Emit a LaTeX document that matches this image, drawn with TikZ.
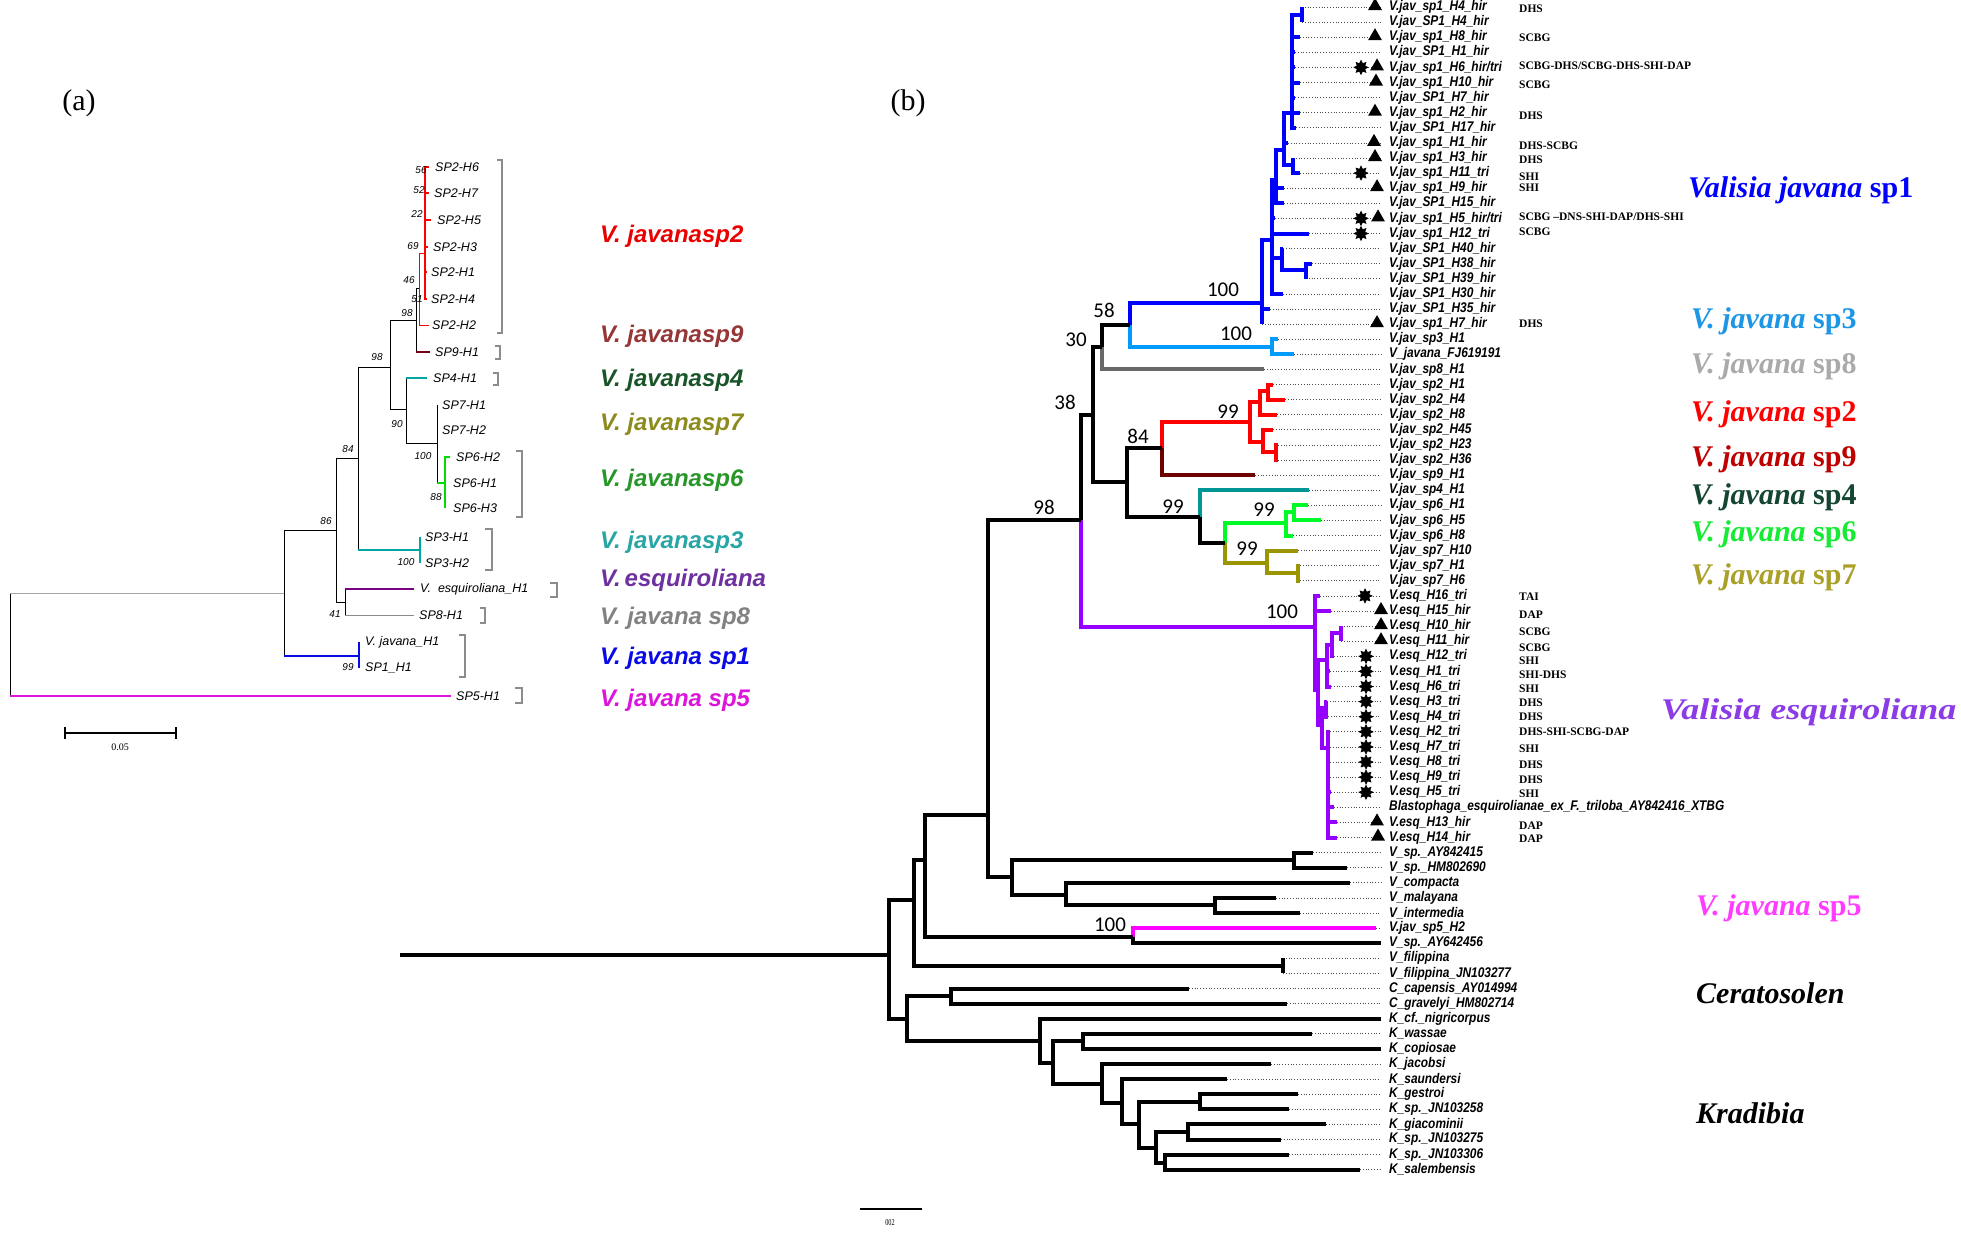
\documentclass[tikz,border=0pt]{standalone}
\usepackage{fontspec}
\usepackage{tikz}
\usetikzlibrary{shapes.geometric}
\setmainfont{Liberation Serif}
\newfontfamily\leaffont[FakeStretch=0.85]{Liberation Sans}
\newfontfamily\hapfont{Liberation Sans}
\newfontfamily\bootfont{Carlito}

% branch colours, panel (b)
\definecolor{spOne}{RGB}{0,0,255}
\definecolor{spThree}{RGB}{0,155,255}
\definecolor{spEight}{RGB}{105,105,105}
\definecolor{spTwo}{RGB}{255,0,0}
\definecolor{spNine}{RGB}{110,0,0}
\definecolor{spFour}{RGB}{0,150,150}
\definecolor{spSix}{RGB}{0,250,40}
\definecolor{spSeven}{RGB}{155,150,0}
\definecolor{esq}{RGB}{150,0,255}
\definecolor{spFive}{RGB}{255,0,255}
% clade label colours, panel (b)
\definecolor{labThree}{RGB}{30,150,230}
\definecolor{labEight}{RGB}{170,170,170}
\definecolor{labNine}{RGB}{190,0,0}
\definecolor{labFour}{RGB}{20,70,50}
\definecolor{labSix}{RGB}{20,235,50}
\definecolor{labSeven}{RGB}{170,160,40}
\definecolor{labEsq}{RGB}{140,60,230}
\definecolor{labFive}{RGB}{255,60,255}
% panel (a)
\definecolor{aRed}{RGB}{235,0,0}
\definecolor{aBrown}{RGB}{150,55,55}
\definecolor{aDkGreen}{RGB}{25,85,40}
\definecolor{aOlive}{RGB}{140,140,30}
\definecolor{aGreen}{RGB}{40,150,40}
\definecolor{aTeal}{RGB}{40,165,165}
\definecolor{aPurple}{RGB}{110,50,160}
\definecolor{aGray}{RGB}{130,130,130}
\definecolor{aBlue}{RGB}{10,10,230}
\definecolor{aMag}{RGB}{220,20,220}
\definecolor{bTeal}{RGB}{0,165,165}
\definecolor{bGreen}{RGB}{0,220,0}
\definecolor{bPurple}{RGB}{120,0,130}
\definecolor{bDkRed}{RGB}{120,0,20}

\tikzset{
  branch/.style={line width=4pt},
  lead/.style={dotted, line width=0.8pt, black!70},
  leaf/.style={anchor=west, inner sep=0pt, font=\leaffont\bfseries\itshape\fontsize{14}{16}\selectfont},
  code/.style={anchor=west, inner sep=0pt, font=\bfseries\fontsize{11.5}{12}\selectfont},
  boot/.style={inner sep=0pt, font=\bootfont\fontsize{21}{24}\selectfont},
  clade/.style={anchor=west, inner sep=0pt, font=\bfseries\fontsize{30}{34}\selectfont},
  tri/.style={regular polygon, regular polygon sides=3, fill=black, inner sep=0pt, minimum size=16pt},
  ast/.style={star, star points=8, star point ratio=1.7, fill=black, draw=black, line width=0.6pt, inner sep=0pt, minimum size=14pt},
  aline/.style={line width=0.8pt},
  hap/.style={anchor=west, inner sep=0pt, font=\hapfont\itshape\fontsize{12.5}{14}\selectfont},
  aboot/.style={inner sep=0pt, font=\hapfont\itshape\fontsize{10}{12}\selectfont},
  aclade/.style={anchor=west, inner sep=0pt, font=\hapfont\bfseries\itshape\fontsize{24}{28}\selectfont},
  brack/.style={line width=1.2pt, black!45},
  panel/.style={inner sep=0pt, font=\fontsize{30}{34}\selectfont},
}

% panel (a): vertical part black, horizontal part coloured
\newcommand\aedge[3]{\draw[aline] (#1) -- (#1 |- #2); \draw[aline,#3] (#1 |- #2) -- (#2);}

\begin{document}
\begin{tikzpicture}[x=1pt, y=-1pt]
\fill[white] (0,0) rectangle (1961,1232);
\useasboundingbox (0,0) rectangle (1961,1232);

\node[panel] (pa) at (79,103) {(a)};
\node[panel] (pb) at (908,103) {(b)};

%%%%%%%%%%%%%%%% panel (a)
% haplotypes: index / tip x / label x / y / text
\foreach \i/\tx/\lx/\yy/\txt in {1/429/435/167/{SP2-H6}, 2/429/434/193/{SP2-H7}, 3/431/437/220/{SP2-H5},
  4/428/433/247/{SP2-H3}, 5/427/431/272/{SP2-H1}, 6/427/431/299/{SP2-H4}, 7/429/432/325/{SP2-H2},
  8/430/435/352/{SP9-H1}, 9/427/433/378/{SP4-H1}, 10/437/442/405/{SP7-H1}, 11/437/442/430/{SP7-H2},
  12/450/456/457/{SP6-H2}, 13/445/453/483/{SP6-H1}, 14/445/453/508/{SP6-H3}, 15/420/425/537/{SP3-H1},
  16/420/425/563/{SP3-H2}, 17/414/420/589/{V.\ \ esquiroliana\_H1}, 18/414/419/615/{SP8-H1},
  19/359/365/642/{V. javana\_H1}, 20/359/365/668/{SP1\_H1}, 21/451/456/696/{SP5-H1}} {
  \coordinate (aT\i) at (\tx,\yy);
  \node[hap] (aL\i) at (\lx,\yy) {\txt};
}

% internal nodes
\coordinate (aR) at (10,645);
\coordinate (aN86) at (284,593);
\coordinate (aN336) at (336,530);
\coordinate (aN41) at (345,602);
\coordinate (aN84) at (358,458);
\coordinate (aNt) at (420,550);
\coordinate (aN98) at (390,367);
\coordinate (aN98b) at (416,320);
\coordinate (aNr) at (419,288);
\coordinate (aN69) at (425,253);
\coordinate (aN90) at (406,409);
\coordinate (aN100) at (437,443);
\coordinate (aN88) at (445,483);
\coordinate (aNb) at (359,656);

% branches
\aedge{aR}{aN86}{black!35}
\aedge{aR}{aT21}{aMag, line width=2pt}
\aedge{aN86}{aN336}{black}
\aedge{aN86}{aNb}{aBlue, line width=1.8pt}
\aedge{aN336}{aN84}{black}
\aedge{aN336}{aN41}{black}
\aedge{aN41}{aT17}{bPurple, line width=1.5pt}
\aedge{aN41}{aT18}{black!45}
\aedge{aN84}{aN98}{black}
\aedge{aN84}{aNt}{bTeal, line width=1.2pt}
\aedge{aN98}{aN98b}{black}
\aedge{aN98}{aN90}{black}
\aedge{aN98b}{aNr}{black}
\aedge{aN98b}{aT8}{bDkRed, line width=1.5pt}
\aedge{aN90}{aT9}{bTeal, line width=1.2pt}
\aedge{aN90}{aN100}{black}
\aedge{aN100}{aN88}{bGreen, line width=1.2pt}
\draw[aline, red] (aNr) |- (aN69);
\draw[aline, red] (aNr) |- (aT7);
\foreach \i in {1,...,6} \draw[line width=2.5pt, red] (aN69) |- (aT\i);
\draw[aline] (aN100) |- (aT10);
\draw[aline] (aN100) |- (aT11);
\foreach \i in {12,13,14} \draw[line width=1.2pt, bGreen] (aN88) |- (aT\i);
\foreach \i in {15,16} \draw[line width=2pt, bTeal] (aNt) |- (aT\i);
\foreach \i in {19,20} \draw[line width=2.5pt, aBlue] (aNb) |- (aT\i);

% bootstrap values
\foreach \bx/\by/\bv [count=\n] in {421/170/56, 419/190/52, 417/214/22, 413/246/69, 409/280/46,
  417/299/51, 407/313/98, 377/357/98, 397/424/90, 423/456/100, 436/497/88, 348/449/84,
  326/521/86, 406/562/100, 335/614/41, 348/667/99}
  \node[aboot] (ab\n) at (\bx,\by) {\bv};

% brackets
\foreach \xa/\xb/\ya/\yb [count=\n] in {497/502/160/333, 495/500/346/359, 493/498/373/385,
  516/522/451/517, 485/492/529/570, 550/557/583/597, 480/485/608/623, 459/465/635/677, 515/522/688/703} {
  \coordinate (bkA\n) at (\xa,\ya);
  \coordinate (bkB\n) at (\xb,\yb);
  \draw[brack] (bkA\n) -| (bkB\n) -- (bkA\n |- bkB\n);
}

% species names
\node[aclade, text=aRed] (aSp2) at (600,236) {V. javanasp2};
\node[aclade, text=aBrown] (aSp9) at (600,336) {V. javanasp9};
\node[aclade, text=aDkGreen] (aSp4) at (600,380) {V. javanasp4};
\node[aclade, text=aOlive] (aSp7) at (600,424) {V. javanasp7};
\node[aclade, text=aGreen] (aSp6) at (600,480) {V. javanasp6};
\node[aclade, text=aTeal] (aSp3) at (600,542) {V. javanasp3};
\node[aclade, text=aPurple] (aEsq) at (600,580) {V.\,esquiroliana};
\node[aclade, text=aGray] (aSp8) at (600,618) {V. javana sp8};
\node[aclade, text=aBlue] (aSp1) at (600,658) {V. javana sp1};
\node[aclade, text=aMag] (aSp5) at (600,700) {V. javana sp5};

% scale bar
\coordinate (asA) at (65,733);
\coordinate (asB) at (176,733);
\draw[line width=2.5pt] (asA) -- (asB);
\draw[line width=2pt] ([yshift=-6pt]asA) -- ([yshift=6pt]asA);
\draw[line width=2pt] ([yshift=-6pt]asB) -- ([yshift=6pt]asB);
\node[inner sep=0pt, font=\fontsize{10}{12}\selectfont] (asL) at (120,747) {0.05};

%%%%%%%%%%%%%%%% panel (b)
% leaves: index / tip x / text
\foreach \i/\tx/\txt in {1/1302/{V.jav\_sp1\_H4\_hir}, 2/1302/{V.jav\_SP1\_H4\_hir}, 3/1300/{V.jav\_sp1\_H8\_hir},
  4/1295/{V.jav\_SP1\_H1\_hir}, 5/1295/{V.jav\_sp1\_H6\_hir/tri}, 6/1300/{V.jav\_sp1\_H10\_hir},
  7/1295/{V.jav\_SP1\_H7\_hir}, 8/1300/{V.jav\_sp1\_H2\_hir}, 9/1296/{V.jav\_SP1\_H17\_hir},
  10/1288/{V.jav\_sp1\_H1\_hir}, 11/1293/{V.jav\_sp1\_H3\_hir}, 12/1300/{V.jav\_sp1\_H11\_tri},
  13/1284/{V.jav\_sp1\_H9\_hir}, 14/1284/{V.jav\_SP1\_H15\_hir}, 15/1275/{V.jav\_sp1\_H5\_hir/tri},
  16/1309/{V.jav\_sp1\_H12\_tri}, 17/1283/{V.jav\_SP1\_H40\_hir}, 18/1312/{V.jav\_SP1\_H38\_hir},
  19/1306/{V.jav\_SP1\_H39\_hir}, 20/1283/{V.jav\_SP1\_H30\_hir}, 21/1270/{V.jav\_SP1\_H35\_hir},
  22/1262/{V.jav\_sp1\_H7\_hir}, 23/1278/{V.jav\_sp3\_H1}, 24/1294/{V\_javana\_FJ619191},
  25/1264/{V.jav\_sp8\_H1}, 26/1273/{V.jav\_sp2\_H1}, 27/1285/{V.jav\_sp2\_H4}, 28/1277/{V.jav\_sp2\_H8},
  29/1273/{V.jav\_sp2\_H45}, 30/1278/{V.jav\_sp2\_H23}, 31/1278/{V.jav\_sp2\_H36}, 32/1255/{V.jav\_sp9\_H1},
  33/1309/{V.jav\_sp4\_H1}, 34/1308/{V.jav\_sp6\_H1}, 35/1321/{V.jav\_sp6\_H5}, 36/1293/{V.jav\_sp6\_H8},
  37/1298/{V.jav\_sp7\_H10}, 38/1300/{V.jav\_sp7\_H1}, 39/1300/{V.jav\_sp7\_H6},
  40/1320/{V.esq\_H16\_tri}, 41/1331/{V.esq\_H15\_hir}, 42/1341/{V.esq\_H10\_hir}, 43/1341/{V.esq\_H11\_hir},
  44/1334/{V.esq\_H12\_tri}, 45/1330/{V.esq\_H1\_tri}, 46/1331/{V.esq\_H6\_tri}, 47/1327/{V.esq\_H3\_tri},
  48/1328/{V.esq\_H4\_tri}, 49/1330/{V.esq\_H2\_tri}, 50/1330/{V.esq\_H7\_tri}, 51/1330/{V.esq\_H8\_tri},
  52/1330/{V.esq\_H9\_tri}, 53/1331/{V.esq\_H5\_tri},
  54/1334/{Blastophaga\_esquirolianae\_ex\_F.\_triloba\_AY842416\_XTBG},
  55/1337/{V.esq\_H13\_hir}, 56/1337/{V.esq\_H14\_hir}, 57/1313/{V\_sp.\_AY842415}, 58/1347/{V\_sp.\_HM802690},
  59/1350/{V\_compacta}, 60/1276/{V\_malayana}, 61/1300/{V\_intermedia}, 62/1376/{V.jav\_sp5\_H2},
  63/1381/{V\_sp.\_AY642456}, 64/1283/{V\_filippina}, 65/1283/{V\_filippina\_JN103277},
  66/1189/{C\_capensis\_AY014994}, 67/1287/{C\_gravelyi\_HM802714}, 68/1381/{K\_cf.\_nigricorpus},
  69/1312/{K\_wassae}, 70/1381/{K\_copiosae}, 71/1271/{K\_jacobsi}, 72/1227/{K\_saundersi},
  73/1298/{K\_gestroi}, 74/1289/{K\_sp.\_JN103258}, 75/1326/{K\_giacominii}, 76/1281/{K\_sp.\_JN103275},
  77/1289/{K\_sp.\_JN103306}, 78/1360/{K\_salembensis}} {
  \pgfmathsetmacro\yy{7+(\i-1)*15.1}
  \coordinate (T\i) at (\tx,\yy);
  \coordinate (E\i) at (1381,\yy);
  \node[leaf] (L\i) at (1389,\yy) {\txt};
  \draw[lead] (T\i) -- (E\i);
}

% internal nodes
\coordinate (ba1) at (1302,14.5);
\coordinate (bA) at (1292,113);
\coordinate (bb1) at (1293,164.5);
\coordinate (bB) at (1284,150);
\coordinate (bC1) at (1276,180);
\coordinate (bd2) at (1306,270);
\coordinate (bd1) at (1282,258);
\coordinate (bD) at (1272,240);
\coordinate (bS1) at (1262,303);
\coordinate (bS3) at (1272,347);
\coordinate (b58) at (1130,325);
\coordinate (b30) at (1102,347);
\coordinate (b38) at (1093,415);
\coordinate (b8499) at (1127,482);
\coordinate (b84) at (1162,448);
\coordinate (bSp2) at (1250,422);
\coordinate (br1) at (1260,402);
\coordinate (br2) at (1263,442);
\coordinate (br3) at (1268,391);
\coordinate (br4) at (1276,452);
\coordinate (b99a) at (1200,517);
\coordinate (b99b) at (1225,543);
\coordinate (bSp6) at (1286,523);
\coordinate (bg1) at (1294,512);
\coordinate (bSp7) at (1267,563);
\coordinate (bo1) at (1298,573);
\coordinate (b98) at (1081,520);
\coordinate (bEsq) at (1315,627);
\coordinate (bp1) at (1318,690);
\coordinate (bq1) at (1327,660);
\coordinate (bqa) at (1332,645);
\coordinate (bqb) at (1341,633);
\coordinate (bp2) at (1322,725);
\coordinate (bp3) at (1326,708);
\coordinate (bp4) at (1328,748);
\coordinate (bM1) at (988,815);
\coordinate (bV1) at (1012,877);
\coordinate (bvsp) at (1294,860);
\coordinate (bvcm) at (1066,895);
\coordinate (bvmi) at (1215,905);
\coordinate (bW) at (925,860);
\coordinate (bSp5) at (1133,937);
\coordinate (bU) at (914,900);
\coordinate (bfil) at (1283,966);
\coordinate (bR) at (889,955);
\coordinate (bR0) at (400,955);
\coordinate (bK) at (907,1019);
\coordinate (bCer) at (951,996);
\coordinate (bKr) at (1040,1041);
\coordinate (bk2) at (1053,1063);
\coordinate (bk3) at (1083,1041);
\coordinate (bk4) at (1102,1084);
\coordinate (bk5) at (1122,1103);
\coordinate (bk6) at (1139,1124);
\coordinate (bk7) at (1200,1102);
\coordinate (bk8) at (1156,1148);
\coordinate (bk9) at (1188,1132);
\coordinate (bk10) at (1165,1163);

% branches
\draw[branch] (bR0) -- (bR);
\foreach \p/\c in {b58/bS1, bS1/bD, bS1/T21, bS1/T22, bD/bC1, bD/T15, bD/T16, bD/bd1, bD/T20,
  bd1/T17, bd1/bd2, bd2/T18, bd2/T19, bC1/bB, bC1/T13, bC1/T14, bB/bA, bB/T10, bB/bb1,
  bb1/T11, bb1/T12, bA/ba1, bA/T3, bA/T4, bA/T5, bA/T6, bA/T7, bA/T8, bA/T9, ba1/T1, ba1/T2}
  \draw[branch, spOne] (\p) |- (\c);
\foreach \p/\c in {b58/bS3, bS3/T23, bS3/T24} \draw[branch, spThree] (\p) |- (\c);
\draw[branch, spEight] (b30) |- (T25);
\foreach \p/\c in {b84/bSp2, bSp2/br1, bSp2/br2, br1/br3, br1/T28, br3/T26, br3/T27, br2/T29,
  br2/br4, br4/T30, br4/T31} \draw[branch, spTwo] (\p) |- (\c);
\draw[branch, spNine] (b84) |- (T32);
\draw[branch, spFour] (b99a) |- (T33);
\foreach \p/\c in {b99b/bSp6, bSp6/bg1, bSp6/T36, bg1/T34, bg1/T35} \draw[branch, spSix] (\p) |- (\c);
\foreach \p/\c in {b99b/bSp7, bSp7/T37, bSp7/bo1, bo1/T38, bo1/T39} \draw[branch, spSeven] (\p) |- (\c);
\foreach \p/\c in {b98/bEsq, bEsq/T40, bEsq/T41, bEsq/bp1, bp1/bq1, bp1/bp2, bq1/bqa, bq1/T45,
  bq1/T46, bqa/bqb, bqa/T44, bqb/T42, bqb/T43, bp2/bp3, bp2/bp4, bp3/T47, bp3/T48, bp4/T49,
  bp4/T50, bp4/T51, bp4/T52, bp4/T53, bp4/T54, bp4/T55, bp4/T56} \draw[branch, esq] (\p) |- (\c);
\draw[branch, spFive] (bSp5) |- (T62);
\foreach \p/\c in {b30/b58, b38/b30, b38/b8499, b8499/b84, b8499/b99a, b99a/b99b, b98/b38,
  bM1/b98, bM1/bV1, bW/bM1, bW/bSp5, bSp5/T63, bU/bW, bU/bfil, bR/bU, bR/bK, bfil/T64, bfil/T65,
  bV1/bvsp, bV1/bvcm, bvsp/T57, bvsp/T58, bvcm/T59, bvcm/bvmi, bvmi/T60, bvmi/T61,
  bK/bCer, bK/bKr, bCer/T66, bCer/T67, bKr/T68, bKr/bk2, bk2/bk3, bk2/bk4, bk3/T69, bk3/T70,
  bk4/T71, bk4/bk5, bk5/T72, bk5/bk6, bk6/bk7, bk6/bk8, bk7/T73, bk7/T74, bk8/bk9, bk8/bk10,
  bk9/T75, bk9/T76, bk10/T77, bk10/T78} \draw[branch] (\p) |- (\c);

% bootstrap values
\foreach \bx/\by/\bv [count=\n] in {1044/507/98, 1065/402/38, 1076/340/30, 1104/310/58,
  1223/290/100, 1236/334/100, 1138/436/84, 1228/412/99, 1173/507/99, 1264/510/99,
  1247/549/99, 1282/612/100, 1110/925/100}
  \node[boot] (bs\n) at (\bx,\by) {\bv};

% triangles and stars
\foreach \i/\sx in {1/1375, 3/1375, 5/1377, 6/1376, 8/1375, 10/1374, 11/1375, 13/1377, 15/1378,
  22/1377, 41/1381, 42/1381, 43/1381, 55/1377, 56/1378}
  \node[tri] (tri\i) at (\sx,{6+(\i-1)*15.1}) {};
\foreach \i/\sx in {5/1361, 12/1361, 15/1361, 16/1361, 40/1365, 44/1366, 45/1366, 46/1366,
  47/1366, 48/1366, 49/1366, 50/1366, 51/1366, 52/1366, 53/1366}
  \node[ast] (ast\i) at (\sx,{7+(\i-1)*15.1}) {};

% localities
\foreach \cy/\ctxt [count=\n] in {9/DHS, 38/SCBG, 66/{SCBG-DHS/SCBG-DHS-SHI-DAP}, 85/SCBG, 116/DHS,
  146/DHS-SCBG, 160/DHS, 177/SHI, 188/SHI, 217/{SCBG –DNS-SHI-DAP/DHS-SHI}, 232/SCBG, 324/DHS,
  597/TAI, 615/DAP, 632/SCBG, 648/SCBG, 661/SHI, 675/SHI-DHS, 689/SHI, 703/DHS, 717/DHS,
  732/DHS-SHI-SCBG-DAP, 749/SHI, 765/DHS, 780/DHS, 794/SHI, 826/DAP, 839/DAP}
  \node[code] (loc\n) at (1519,\cy) {\ctxt};

% clade names
\node[clade, text=spOne] (cSp1) at (1688,190) {\textit{Valisia javana} sp1};
\node[clade, text=labThree] (cSp3) at (1691,321) {\textit{V. javana} sp3};
\node[clade, text=labEight] (cSp8) at (1691,366) {\textit{V. javana} sp8};
\node[clade, text=spTwo] (cSp2) at (1691,414) {\textit{V. javana} sp2};
\node[clade, text=labNine] (cSp9) at (1691,459) {\textit{V. javana} sp9};
\node[clade, text=labFour] (cSp4) at (1691,497) {\textit{V. javana} sp4};
\node[clade, text=labSix] (cSp6) at (1691,534) {\textit{V. javana} sp6};
\node[clade, text=labSeven] (cSp7) at (1691,577) {\textit{V. javana} sp7};
\node[clade, text=labEsq] (cEsq) at (1661,712) {\scalebox{1.2}[1]{\textit{Valisia esquiroliana}}};
\node[clade, text=labFive] (cSp5) at (1696,908) {\textit{V. javana} sp5};
\node[clade] (cCer) at (1696,993) {\textit{Ceratosolen}};
\node[clade] (cKra) at (1696,1113) {\textit{Kradibia}};

% scale bar
\coordinate (bsA) at (860,1209);
\coordinate (bsB) at (922,1209);
\draw[line width=1.2pt] (bsA) -- (bsB);
\node[inner sep=0pt, font=\fontsize{9}{10}\selectfont] (bsL) at (890,1223) {\scalebox{0.7}[1]{002}};
\end{tikzpicture}
\end{document}
